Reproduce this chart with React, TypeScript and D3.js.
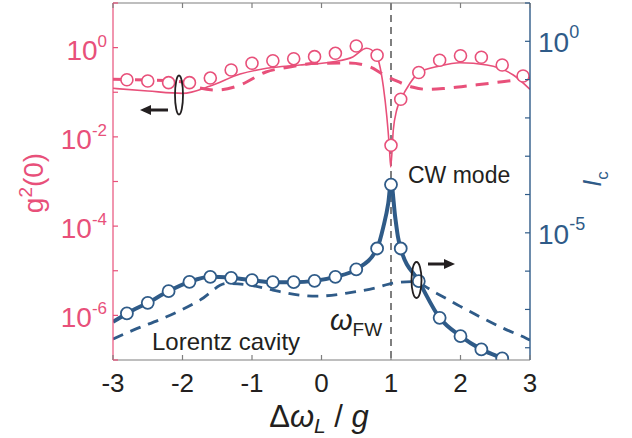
import React from 'react';
import * as d3 from 'd3';

// ---------- data ----------
const xTicks = [-3, -2, -1, 0, 1, 2, 3];
const leftTickExps = [-7, -6, -5, -4, -3, -2, -1, 0, 1];
const leftLabelExps = [0, -2, -4, -6];
const rightTickExps = [-8, -7, -6, -5, -4, -3, -2, -1, 0, 1];
const rightLabelExps = [0, -5];

// g2(0) measured (circles)
const g2PtsX = [-2.8, -2.5, -2.2, -1.9, -1.6, -1.3, -1.0, -0.7, -0.4, -0.1, 0.2, 0.5, 0.8, 1.0, 1.14, 1.4, 1.7, 2.0, 2.3, 2.6, 2.9];
const g2PtsY = [0.191, 0.179, 0.164, 0.164, 0.208, 0.315, 0.446, 0.509, 0.565, 0.627, 0.746, 1.09, 0.673, 0.00647, 0.0695, 0.277, 0.52, 0.659, 0.607, 0.408, 0.231];

// g2(0) CW-mode curve (solid)
const g2LineX = [-3, -2.5, -2.0, -1.6, -1.17, -0.79, -0.31, 0.17, 0.45, 0.65, 0.78, 0.83, 0.89, 0.94, 0.976, 0.996, 1.033, 1.082, 1.144, 1.273, 1.4, 1.7, 1.99, 2.38, 2.76, 3.0];
const g2LineY = [0.1227, 0.1067, 0.0946, 0.138, 0.2564, 0.3443, 0.408, 0.484, 0.617, 0.966, 0.719, 0.446, 0.133, 0.0283, 0.00603, 0.00211, 0.01426, 0.04, 0.0695, 0.159, 0.274, 0.387, 0.459, 0.408, 0.244, 0.1164];

// g2(0) Lorentz cavity (dashed)
const g2LorX = [-3, -2.5, -2.0, -1.8, -1.5, -1.17, -0.8, -0.5, -0.07, 0.4, 0.7, 0.88, 1.08, 1.32, 1.51, 1.75, 2.2, 2.6, 3.0];
const g2LorY = [0.195, 0.188, 0.17, 0.131, 0.112, 0.145, 0.284, 0.359, 0.446, 0.452, 0.368, 0.256, 0.179, 0.129, 0.1164, 0.121, 0.145, 0.172, 0.208];

// Ic measured (circles)
const icPtsX = [-2.8, -2.5, -2.2, -1.9, -1.6, -1.3, -1.0, -0.7, -0.4, -0.1, 0.2, 0.5, 0.8, 1.0, 1.14, 1.4, 1.7, 2.0, 2.3, 2.6];
const icPtsY = [7.87e-8, 1.49e-7, 3.0e-7, 5.25e-7, 7.1e-7, 6.68e-7, 5.82e-7, 5.15e-7, 5.15e-7, 5.57e-7, 7.1e-7, 1.107e-6, 3.9e-6, 1.82e-4, 3.9e-6, 5.48e-7, 6.04e-8, 2.01e-8, 9.06e-9, 5.27e-9];

// Ic CW-mode curve (solid)
const icLineX = [-3, -2.8, -2.5, -2.2, -1.9, -1.6, -1.3, -1.0, -0.7, -0.4, -0.1, 0.2, 0.5, 0.8, 0.89, 0.96, 1.0, 1.06, 1.1, 1.14, 1.4, 1.7, 2.0, 2.3, 2.6, 2.7];
const icLineY = [4.73e-8, 7.87e-8, 1.49e-7, 3.0e-7, 5.25e-7, 7.1e-7, 6.68e-7, 5.82e-7, 5.15e-7, 5.15e-7, 5.57e-7, 7.1e-7, 1.107e-6, 3.9e-6, 1.43e-5, 5.83e-5, 2.1e-4, 2.61e-5, 7.83e-6, 3.9e-6, 5.48e-7, 6.04e-8, 2.01e-8, 9.06e-9, 5.27e-9, 4.2e-9];

// Ic Lorentz cavity (dashed)
const icLorX = [-3, -2.71, -2.23, -1.75, -1.36, -1.03, -0.7, -0.31, -0.07, 0.41, 0.79, 1.03, 1.3, 1.66, 1.99, 2.28, 2.62, 2.95, 3.0];
const icLorY = [1.68e-8, 2.88e-8, 6.41e-8, 1.75e-7, 4.77e-7, 4.31e-7, 3.19e-7, 2.36e-7, 2.22e-7, 2.75e-7, 3.71e-7, 4.86e-7, 5.32e-7, 2.62e-7, 1.22e-7, 6.41e-8, 3.2e-8, 1.75e-8, 1.58e-8];

const PINK = '#E8507A';
const BLUE = '#2F5B88';
const GRAY = '#7F7F7F';
const BLACK = '#231F20';
const FONT = "'Liberation Sans', Arial, Helvetica, sans-serif";

export default function App() {
  const W = 632, H = 438;
  const L = 113, R = 530, T = 3, B = 360;
  const x = d3.scaleLinear().domain([-3, 3]).range([L, R]);
  const yL = d3.scaleLog().domain([1e-7, 10]).range([B, T]);
  const yR = d3.scaleLog().domain([Math.pow(10, -8.32), 10]).range([B, T]);

  const mk = (xs: number[], ys: number[], ys2: d3.ScaleLogarithmic<number, number>) =>
    d3.line<number>()
      .x((_, i) => x(xs[i]))
      .y((_, i) => ys2(ys[i]))
      .curve(d3.curveMonotoneX)(ys) || '';

  return (
    <svg width={W} height={H} style={{ position: 'absolute', left: 0, top: 0, background: '#fff' }} fontFamily={FONT}>
      <defs>
        <clipPath id="plot">
          <rect x={L} y={T} width={R - L} height={B - T} />
        </clipPath>
      </defs>

      {/* vertical dashed line at omega_FW */}
      <line x1={x(1)} x2={x(1)} y1={T} y2={B} stroke={GRAY} strokeWidth={2} strokeDasharray="7,5" />

      <g clipPath="url(#plot)">
        <path d={mk(g2LorX, g2LorY, yL)} fill="none" stroke={PINK} strokeWidth={3} strokeDasharray="13,9" />
        <path d={mk(g2LineX, g2LineY, yL)} fill="none" stroke={PINK} strokeWidth={1.6} />
        <path d={mk(icLorX, icLorY, yR)} fill="none" stroke={BLUE} strokeWidth={2.8} strokeDasharray="11,8" />
        <path d={mk(icLineX, icLineY, yR)} fill="none" stroke={BLUE} strokeWidth={4} />
        {g2PtsX.map((v, i) => (
          <circle key={'p' + i} cx={x(v)} cy={yL(g2PtsY[i])} r={6} fill="#fff" stroke={PINK} strokeWidth={1.6} />
        ))}
        {icPtsX.map((v, i) => (
          <circle key={'b' + i} cx={x(v)} cy={yR(icPtsY[i])} r={6} fill="#fff" stroke={BLUE} strokeWidth={1.8} />
        ))}
      </g>

      {/* frame */}
      <line x1={L} x2={R} y1={T} y2={T} stroke={GRAY} strokeWidth={1.2} />
      <line x1={L} x2={R} y1={B} y2={B} stroke={GRAY} strokeWidth={1.2} />
      <line x1={L} x2={L} y1={T} y2={B} stroke={PINK} strokeWidth={1.2} />
      <line x1={R} x2={R} y1={T} y2={B} stroke={BLUE} strokeWidth={1.4} />

      {/* x ticks */}
      {xTicks.map(t => (
        <g key={'xt' + t}>
          <line x1={x(t)} x2={x(t)} y1={B} y2={B - 5} stroke={GRAY} strokeWidth={1.2} />
          <line x1={x(t)} x2={x(t)} y1={T} y2={T + 5} stroke={GRAY} strokeWidth={1.2} />
          <text x={x(t)} y={392} textAnchor="middle" fontSize={26} fill={BLACK}>{t < 0 ? '-' + Math.abs(t) : String(t)}</text>
        </g>
      ))}

      {/* left ticks */}
      {leftTickExps.map(e => (
        <line key={'lt' + e} x1={L} x2={L + 5} y1={yL(Math.pow(10, e))} y2={yL(Math.pow(10, e))} stroke={PINK} strokeWidth={1.2} />
      ))}
      {leftLabelExps.map(e => (
        <text key={'ll' + e} x={107} y={yL(Math.pow(10, e)) + 12} textAnchor="end" fontSize={28} fill={PINK}>
          10<tspan fontSize={17} dy={-13}>{e}</tspan>
        </text>
      ))}

      {/* right ticks */}
      {rightTickExps.map(e => (
        <line key={'rt' + e} x1={R} x2={R - 5} y1={yR(Math.pow(10, e))} y2={yR(Math.pow(10, e))} stroke={BLUE} strokeWidth={1.2} />
      ))}
      {rightLabelExps.map(e => (
        <text key={'rl' + e} x={538} y={yR(Math.pow(10, e)) + 11} textAnchor="start" fontSize={28} fill={BLUE}>
          10<tspan fontSize={18} dy={-14}>{e}</tspan>
        </text>
      ))}

      {/* axis titles */}
      <text transform="translate(43,183) rotate(-90)" textAnchor="middle" fontSize={28} fill={PINK}>
        g<tspan fontSize={19} dy={-11}>2</tspan><tspan dy={11}>(0)</tspan>
      </text>
      <text transform="translate(601,179) rotate(-90)" textAnchor="middle" fontSize={25} fill={BLUE}>
        <tspan fontStyle="italic">I</tspan><tspan fontSize={17} dy={7}>c</tspan>
      </text>
      <text x={319} y={427} textAnchor="middle" fontSize={31} fill={BLACK}>
        Δ<tspan fontStyle="italic">ω</tspan><tspan fontStyle="italic" fontSize={21} dy={6}>L</tspan><tspan dy={-6}> / </tspan><tspan fontStyle="italic">g</tspan>
      </text>

      {/* annotations */}
      <text x={408} y={183} fontSize={23} fill={BLACK}>CW mode</text>
      <text x={152} y={350} fontSize={24} fill={BLACK}>Lorentz cavity</text>
      <text x={330} y={330} fontSize={29} fontStyle="italic" fill={BLACK}>ω<tspan fontStyle="normal" fontSize={19} dy={6}>FW</tspan></text>

      {/* arrows + ellipses */}
      <ellipse cx={179} cy={95} rx={4} ry={19.5} fill="none" stroke={BLACK} strokeWidth={1.8} />
      <line x1={168} x2={148} y1={110} y2={110} stroke={BLACK} strokeWidth={3} />
      <path d="M140,110 L151,105 L151,115 Z" fill={BLACK} />
      <ellipse cx={416.5} cy={280} rx={5} ry={18} fill="none" stroke={BLACK} strokeWidth={1.8} />
      <line x1={428} x2={447} y1={264} y2={264} stroke={BLACK} strokeWidth={3} />
      <path d="M455,264 L444,259 L444,269 Z" fill={BLACK} />
    </svg>
  );
}
